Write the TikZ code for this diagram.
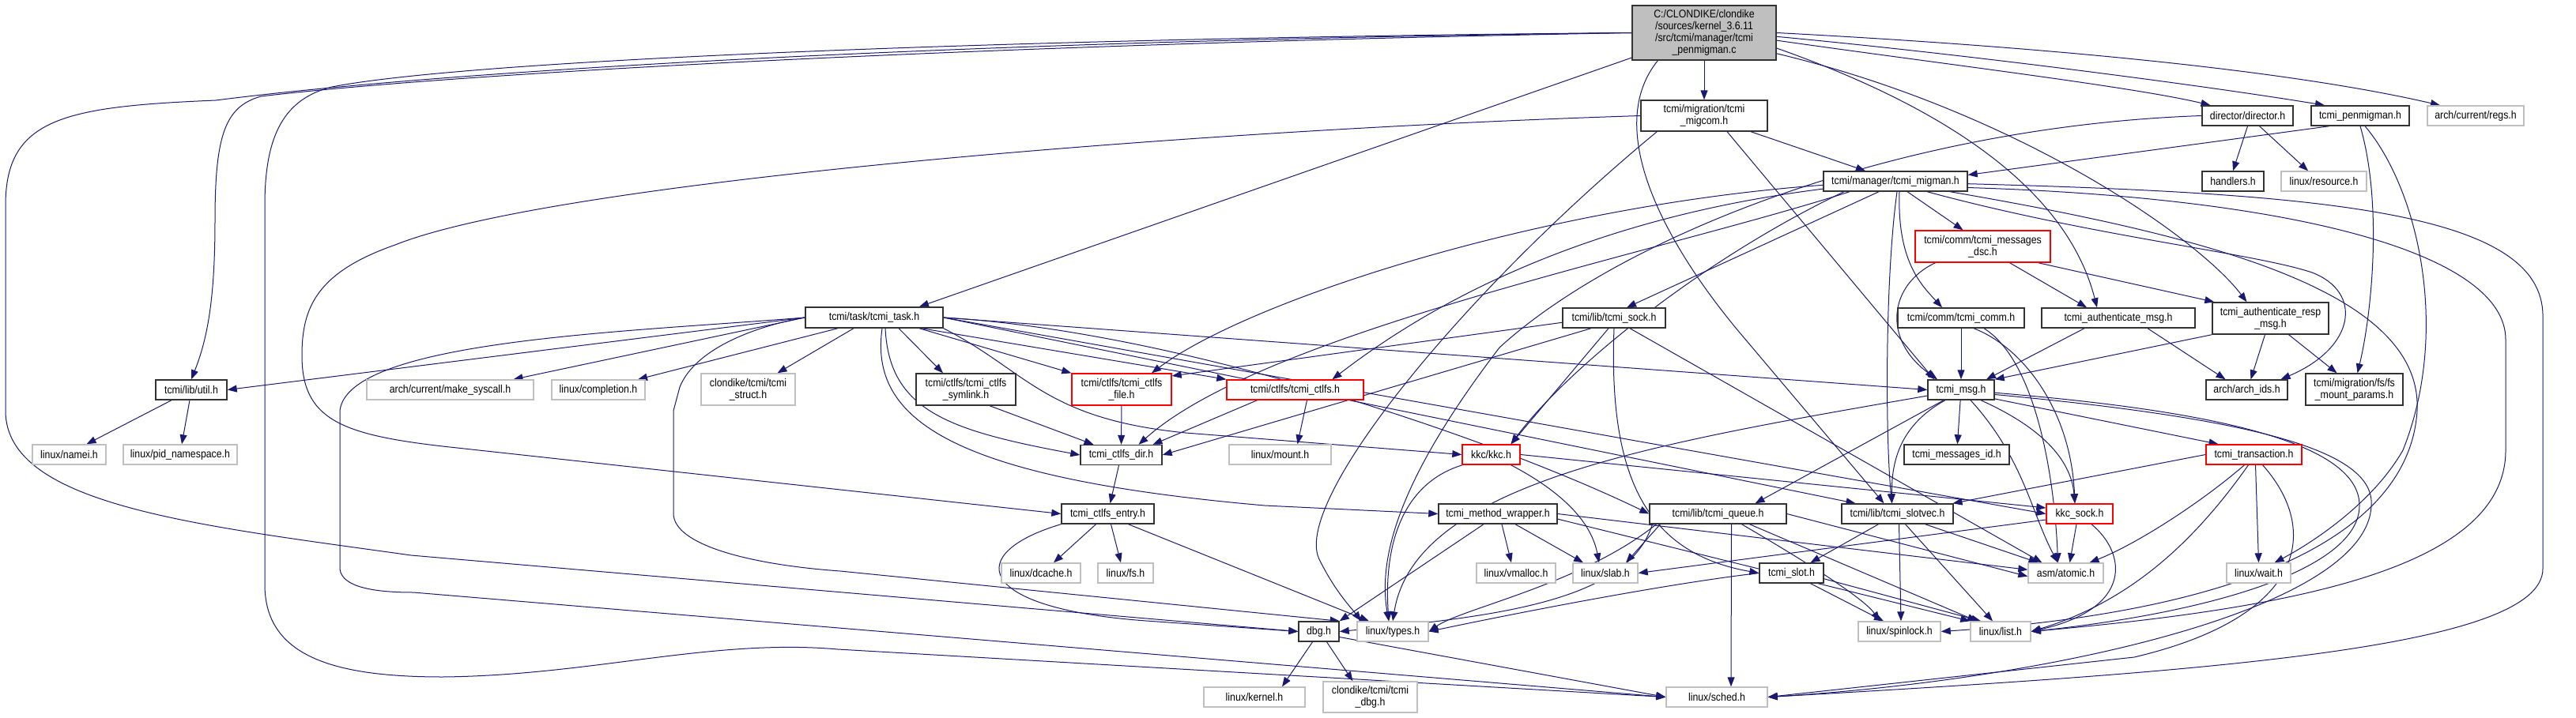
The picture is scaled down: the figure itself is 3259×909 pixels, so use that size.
\documentclass[tikz,border=0pt]{standalone}
\usepackage{fontspec}
\setmainfont{Liberation Sans}[FakeStretch=0.88]
\usepackage{tikz}
\usetikzlibrary{arrows.meta, backgrounds}
\definecolor{edgeblue}{HTML}{191970}
\definecolor{boxline}{HTML}{333333}
\definecolor{extline}{HTML}{BFBFBF}
\definecolor{cutline}{HTML}{FF0000}
\definecolor{rootfill}{HTML}{BFBFBF}

\begin{document}
\begin{tikzpicture}[x=1pt, y=-1pt, font=\fontsize{14}{15}\selectfont,
  hdr/.style={draw=boxline, line width=1.4pt, fill=white, inner sep=0pt, align=center},
  syshdr/.style={hdr, draw=extline},
  cuthdr/.style={hdr, draw=cutline},
  root/.style={hdr, fill=rootfill},
  dep/.style={draw=edgeblue, line width=1pt, -{Triangle[length=12pt, width=9pt]}}]
\useasboundingbox (0,0) rectangle (3259,909);

\node[root, minimum width=182pt, minimum height=69pt] (main) at (2156,41.5) {C:/CLONDIKE/clondike\\/sources/kernel\_3.6.11\\/src/tcmi/manager/tcmi\\\_penmigman.c};
\node[hdr, minimum width=160pt, minimum height=39pt] (migcom) at (2156,146.5) {tcmi/migration/tcmi\\\_migcom.h};
\node[hdr, minimum width=182pt, minimum height=25pt] (migman) at (2398,229.5) {tcmi/manager/tcmi\_migman.h};
\node[cuthdr, minimum width=171pt, minimum height=40pt] (dsc) at (2508.5,312) {tcmi/comm/tcmi\_messages\\\_dsc.h};
\node[hdr, minimum width=160pt, minimum height=25pt] (comm) at (2481,402.5) {tcmi/comm/tcmi\_comm.h};
\node[hdr, minimum width=194pt, minimum height=25pt] (authmsg) at (2680,402.5) {tcmi\_authenticate\_msg.h};
\node[hdr, minimum width=147pt, minimum height=40pt] (authresp) at (2872.5,403) {tcmi\_authenticate\_resp\\\_msg.h};
\node[hdr, minimum width=115pt, minimum height=25pt] (director) at (2843.5,146.5) {director/director.h};
\node[hdr, minimum width=124pt, minimum height=25pt] (penmigh) at (2986,146.5) {tcmi\_penmigman.h};
\node[syshdr, minimum width=122pt, minimum height=25pt] (regs) at (3132,146.5) {arch/current/regs.h};
\node[hdr, minimum width=78pt, minimum height=25pt] (handlers) at (2825,229.5) {handlers.h};
\node[syshdr, minimum width=108pt, minimum height=25pt] (resource) at (2940,229.5) {linux/resource.h};
\node[hdr, minimum width=103pt, minimum height=25pt] (archids) at (2842.5,493.5) {arch/arch\_ids.h};
\node[hdr, minimum width=123pt, minimum height=40pt] (fsmount) at (2978.5,493) {tcmi/migration/fs/fs\\\_mount\_params.h};
\node[cuthdr, minimum width=121pt, minimum height=25pt] (transaction) at (2851.5,575.5) {tcmi\_transaction.h};
\node[syshdr, minimum width=81pt, minimum height=25pt] (wait) at (2857.5,725.5) {linux/wait.h};
\node[hdr, minimum width=84pt, minimum height=25pt] (msg) at (2481,493.5) {tcmi\_msg.h};
\node[hdr, minimum width=133pt, minimum height=25pt] (msgid) at (2475.5,575.5) {tcmi\_messages\_id.h};
\node[hdr, minimum width=173pt, minimum height=25pt] (queue) at (2173.5,650.5) {tcmi/lib/tcmi\_queue.h};
\node[hdr, minimum width=141pt, minimum height=25pt] (slotvec) at (2400.5,650.5) {tcmi/lib/tcmi\_slotvec.h};
\node[cuthdr, minimum width=84pt, minimum height=25pt] (kkcsock) at (2631,650.5) {kkc\_sock.h};
\node[hdr, minimum width=81pt, minimum height=25pt] (slot) at (2266.5,725.5) {tcmi\_slot.h};
\node[syshdr, minimum width=95pt, minimum height=25pt] (atomic) at (2613.5,725.5) {asm/atomic.h};
\node[syshdr, minimum width=104pt, minimum height=25pt] (spinlock) at (2403,799.5) {linux/spinlock.h};
\node[syshdr, minimum width=76pt, minimum height=25pt] (list) at (2531,799.5) {linux/list.h};
\node[syshdr, minimum width=128pt, minimum height=25pt] (sched) at (2172,882.5) {linux/sched.h};
\node[cuthdr, minimum width=173pt, minimum height=25pt] (ctlfs) at (1638.5,493.5) {tcmi/ctlfs/tcmi\_ctlfs.h};
\node[syshdr, minimum width=129pt, minimum height=25pt] (mount) at (1619.5,575.5) {linux/mount.h};
\node[cuthdr, minimum width=73pt, minimum height=25pt] (kkc) at (1886.5,575.5) {kkc/kkc.h};
\node[hdr, minimum width=150pt, minimum height=25pt] (wrapper) at (1895,650.5) {tcmi\_method\_wrapper.h};
\node[syshdr, minimum width=100pt, minimum height=25pt] (vmalloc) at (1918,725.5) {linux/vmalloc.h};
\node[syshdr, minimum width=82pt, minimum height=25pt] (slab) at (2031,725.5) {linux/slab.h};
\node[hdr, minimum width=51pt, minimum height=25pt] (dbg) at (1668.5,799.5) {dbg.h};
\node[syshdr, minimum width=90pt, minimum height=25pt] (types) at (1762,799.5) {linux/types.h};
\node[syshdr, minimum width=119pt, minimum height=39pt] (tcmidbg) at (1733.5,882.5) {clondike/tcmi/tcmi\\\_dbg.h};
\node[syshdr, minimum width=128pt, minimum height=25pt] (kernel) at (1587,882.5) {linux/kernel.h};
\node[hdr, minimum width=126pt, minimum height=40pt] (symlink) at (1222,493) {tcmi/ctlfs/tcmi\_ctlfs\\\_symlink.h};
\node[cuthdr, minimum width=126pt, minimum height=40pt] (file) at (1419,493) {tcmi/ctlfs/tcmi\_ctlfs\\\_file.h};
\node[hdr, minimum width=103pt, minimum height=25pt] (dir) at (1418.5,576) {tcmi\_ctlfs\_dir.h};
\node[hdr, minimum width=117pt, minimum height=25pt] (entry) at (1401.5,650.5) {tcmi\_ctlfs\_entry.h};
\node[syshdr, minimum width=100pt, minimum height=25pt] (dcache) at (1317,725.5) {linux/dcache.h};
\node[syshdr, minimum width=70pt, minimum height=25pt] (fs) at (1424,725.5) {linux/fs.h};
\node[syshdr, minimum width=211pt, minimum height=25pt] (makesys) at (569.5,493.5) {arch/current/make\_syscall.h};
\node[syshdr, minimum width=118pt, minimum height=25pt] (completion) at (757,493.5) {linux/completion.h};
\node[syshdr, minimum width=119pt, minimum height=40pt] (tstruct) at (946.5,493) {clondike/tcmi/tcmi\\\_struct.h};
\node[hdr, minimum width=90pt, minimum height=25pt] (util) at (242,493.5) {tcmi/lib/util.h};
\node[syshdr, minimum width=93pt, minimum height=25pt] (namei) at (87.5,575.5) {linux/namei.h};
\node[syshdr, minimum width=144pt, minimum height=25pt] (pidns) at (228,575.5) {linux/pid\_namespace.h};
\node[hdr, minimum width=174pt, minimum height=26pt] (task) at (1106,402) {tcmi/task/tcmi\_task.h};
\node[hdr, minimum width=130pt, minimum height=25pt] (sock) at (2042,402.5) {tcmi/lib/tcmi\_sock.h};

\begin{scope}[on background layer]
% from the .c file
\draw[dep] (main) -- (migcom);
\draw[dep] (main) -- ([xshift=57pt]task.north);
\draw[dep] (main.west) .. controls (1300,55) and (600,90) .. (330,122) .. controls (285,135) and (272,170) .. (272,280) .. controls (272,380) and (262,430) .. (util.north);
\draw[dep] (main.west) .. controls (1300,48) and (600,75) .. (420,110) .. controls (360,125) and (335,170) .. (335,260) -- (335,740) .. controls (335,830) and (420,857) .. (560,857) .. controls (750,855) and (900,808) .. (1060,822) -- (sched.west);
\draw[dep] (main.west) .. controls (1300,50) and (600,85) .. (273,127) .. controls (80,135) and (7,150) .. (7,260) -- (7,520) .. controls (7,640) and (250,665) .. (520,703) -- (dbg.west);
\draw[dep] (main.east) .. controls (2600,60) and (2900,90) .. ([xshift=-45pt]regs.north);
\draw[dep] (main.-3) .. controls (2500,70) and (2800,110) .. ([xshift=-45pt]penmigh.north);
\draw[dep] (main.-6) .. controls (2450,80) and (2700,110) .. ([xshift=-47pt]director.north);
\draw[dep] (main.-12) .. controls (2500,150) and (2620,260) .. ([xshift=-27pt]authmsg.north);
\draw[dep] (main.-16) .. controls (2550,140) and (2780,300) .. ([xshift=-30pt]authresp.north);
\draw[dep] ([xshift=33pt]main.south west) .. controls (2030,160) and (2100,300) .. (2200,420) -- ([xshift=-17pt]slotvec.north);

% migcom, director, penmigman
\draw[dep] (migcom) -- ([xshift=-38pt]migman.north);
\draw[dep] (migcom.west) .. controls (1500,165) and (700,230) .. (500,310) .. controls (400,345) and (382,390) .. (382,450) .. controls (382,530) and (430,550) .. (560,565) -- (entry.west);
\draw[dep] ([xshift=21pt]migcom.south west) .. controls (1850,370) and (1630,640) .. (1670,710) .. controls (1690,750) and (1710,770) .. ([xshift=-40pt]types.north);
\draw[dep] ([xshift=29pt]migcom.south) -- ([xshift=-34pt]msg.north);
\draw[dep] (director.south) -- (handlers.north);
\draw[dep] ([xshift=15pt]director.south) -- ([xshift=-20pt]resource.north);
\draw[dep] (director.west) .. controls (2400,160) and (2050,300) .. (1897,440) .. controls (1790,580) and (1740,690) .. ([xshift=-5pt]types.north);
\draw[dep] ([xshift=-39pt]penmigh.south) -- (migman.5);
\draw[dep] (penmigh.south) .. controls (3015,260) and (3000,400) .. ([xshift=4pt]fsmount.north);
\draw[dep] ([xshift=6pt]penmigh.south) .. controls (3060,240) and (3100,420) .. (3040,570) .. controls (3000,640) and (2920,690) .. ([xshift=20pt]wait.north);

% migman
\draw[dep] (migman.183) .. controls (1950,260) and (1580,380) .. ([xshift=38pt]file.north);
\draw[dep] (migman.186) .. controls (1980,280) and (1790,400) .. ([xshift=47pt]ctlfs.north);
\draw[dep] ([xshift=-58pt]migman.south) .. controls (2100,320) and (1600,420) .. ([xshift=22pt]dir.north);
\draw[dep] ([xshift=-65pt]migman.south) .. controls (2150,330) and (1980,470) .. ([xshift=25pt]kkc.north);
\draw[dep] ([xshift=-21pt]migman.south) -- ([xshift=16pt]sock.north);
\draw[dep] ([xshift=2pt]migman.south) .. controls (2385,350) and (2385,550) .. ([xshift=-7pt]slotvec.north);
\draw[dep] ([xshift=5pt]migman.south) .. controls (2400,330) and (2430,360) .. ([xshift=-24pt]comm.north);
\draw[dep] ([xshift=15pt]migman.south) -- ([xshift=-25pt]dsc.north);
\draw[dep] ([xshift=40pt]migman.south) .. controls (2650,300) and (2850,320) .. (2925,345) .. controls (2990,370) and (2980,440) .. ([xshift=43pt]archids.north);
\draw[dep] ([xshift=69pt]migman.south) .. controls (2800,300) and (3065,370) .. (3058,520) .. controls (3050,650) and (2900,770) .. (spinlock.east);
\draw[dep] (migman.-5) .. controls (2900,250) and (3170,320) .. (3170,430) -- (3170,570) .. controls (3170,720) and (2900,770) .. (list.east);
\draw[dep] (migman.-2) .. controls (2950,245) and (3217,270) .. (3217,400) -- (3217,720) .. controls (3217,820) and (2800,850) .. (sched.east);

% comm headers
\draw[dep] ([xshift=-60pt]dsc.south) .. controls (2390,360) and (2380,430) .. ([xshift=-30pt]msg.north);
\draw[dep] ([xshift=34pt]dsc.south) -- ([xshift=-40pt]authmsg.north);
\draw[dep] ([xshift=70pt]dsc.south) -- ([xshift=3pt]authresp.north west);
\draw[dep] (comm) -- (msg);
\draw[dep] ([xshift=16pt]comm.south) .. controls (2560,440) and (2620,520) .. ([xshift=-6pt]kkcsock.north);
\draw[dep] ([xshift=29pt]comm.south) .. controls (2580,460) and (2600,620) .. ([xshift=-10pt]atomic.north);
\draw[dep] ([xshift=-43pt]authmsg.south) -- ([xshift=32pt]msg.north);
\draw[dep] ([xshift=37pt]authmsg.south) -- ([xshift=-27pt]archids.north);
\draw[dep] (authresp.south west) -- (msg.north east);
\draw[dep] ([xshift=-7pt]authresp.south) -- ([xshift=5pt]archids.north);
\draw[dep] ([xshift=23pt]authresp.south) -- ([xshift=-22pt]fsmount.north);

% tcmi_msg.h
\draw[dep] (msg) -- (msgid);
\draw[dep] ([xshift=-22pt]msg.south) -- ([xshift=47pt]queue.north);
\draw[dep] ([xshift=-20pt]msg.south) .. controls (2400,540) and (2393,590) .. ([xshift=-7pt]slotvec.north);
\draw[dep] ([xshift=25pt]msg.south) .. controls (2580,540) and (2620,580) .. ([xshift=-6pt]kkcsock.north);
\draw[dep] ([xshift=12pt]msg.south) .. controls (2560,580) and (2570,650) .. ([xshift=-10pt]atomic.north);
\draw[dep] (msg.-15) -- ([xshift=-45pt]transaction.north);
\draw[dep] (msg.190) .. controls (2100,560) and (1790,610) .. (types.north);
\draw[dep] (msg.-5) .. controls (2800,520) and (2985,560) .. (2985,640) .. controls (2985,720) and (2800,775) .. (list.east);
\draw[dep] (msg.-8) .. controls (2850,530) and (3005,570) .. (3000,640) .. controls (2995,770) and (2600,860) .. (sched.east);

% transaction
\draw[dep] (transaction.west) -- ([xshift=70pt]slotvec.north);
\draw[dep] ([xshift=-12pt]transaction.south) .. controls (2780,640) and (2700,690) .. ([xshift=30pt]atomic.north);
\draw[dep] ([xshift=2pt]transaction.south) -- (wait.north);
\draw[dep] ([xshift=11pt]transaction.south) .. controls (2935,670) and (2920,780) .. (2700,832) -- (sched.east);
\draw[dep] ([xshift=-7pt]transaction.south) .. controls (2780,680) and (2700,760) .. (list.east);

% lib headers
\draw[dep] ([xshift=-73pt]queue.south) -- ([xshift=26pt]slab.north);
\draw[dep] ([xshift=17pt]queue.south) -- ([xshift=18pt]sched.north);
\draw[dep] ([xshift=-83pt]queue.south) .. controls (2060,760) and (1900,780) .. (dbg.east);
\draw[dep] ([xshift=-78pt]queue.south) .. controls (2000,740) and (1850,770) .. (types.east);
\draw[dep] ([xshift=30pt]queue.south) .. controls (2300,720) and (2360,760) .. ([xshift=-25pt]spinlock.north);
\draw[dep] ([xshift=40pt]queue.south) -- ([xshift=-30pt]list.north);
\draw[dep] (queue.east) -- (atomic.185);
\draw[dep] ([xshift=24pt]slot.south) -- ([xshift=-20pt]spinlock.north);
\draw[dep] (slot.-10) -- ([xshift=-25pt]list.north);
\draw[dep] (slot.west) .. controls (2100,740) and (1900,780) .. (types.east);
\draw[dep] ([xshift=-24pt]slotvec.south) -- ([xshift=24pt]slot.north);
\draw[dep] ([xshift=2pt]slotvec.south) -- ([xshift=2pt]spinlock.north);
\draw[dep] ([xshift=10pt]slotvec.south) -- ([xshift=-10pt]list.north);
\draw[dep] ([xshift=35pt]slotvec.south) -- ([xshift=-35pt]atomic.north);
\draw[dep] ([xshift=-4pt]kkcsock.south) -- ([xshift=5pt]atomic.north);
\draw[dep] (kkcsock.190) -- (slab.east);
\draw[dep] ([xshift=15pt]kkcsock.south) .. controls (2690,700) and (2700,770) .. (list.east);
\draw[dep] (kkc.east) -- (kkcsock.170);
\draw[dep] (kkc.200) .. controls (1780,610) and (1750,680) .. ([xshift=-5pt]types.north);
\draw[dep] ([xshift=25pt]kkc.south) .. controls (1990,630) and (2015,670) .. ([xshift=-8pt]slab.north);
\draw[dep] ([xshift=5pt]wrapper.south) -- ([xshift=-6pt]vmalloc.north);
\draw[dep] ([xshift=22pt]wrapper.south) -- ([xshift=-28pt]slab.north);
\draw[dep] ([xshift=-18pt]wrapper.south) -- (dbg.north east);
\draw[dep] (wrapper.east) -- (atomic.175);
\draw[dep] (wrapper.-5) -- (list.north west);

% sock and ctlfs
\draw[dep] (sock.185) -- (file.15);
\draw[dep] ([xshift=-29pt]sock.south) -- (dir.east);
\draw[dep] ([xshift=-7pt]sock.south) -- ([xshift=25pt]kkc.north);
\draw[dep] (sock.south) .. controls (2035,600) and (2080,700) .. (slot.west);
\draw[dep] ([xshift=20pt]sock.south) -- ([xshift=-30pt]atomic.north);
\draw[dep] (file) -- (dir);
\draw[dep] ([xshift=30pt]symlink.south) -- ([xshift=-35pt]dir.north);
\draw[dep] ([xshift=-48pt]ctlfs.south) -- ([xshift=40pt]dir.north);
\draw[dep] ([xshift=15pt]ctlfs.south) -- ([xshift=22pt]mount.north);
\draw[dep] (dir) -- (entry);
\draw[dep] ([xshift=-15pt]entry.south) -- ([xshift=16pt]dcache.north);
\draw[dep] ([xshift=4pt]entry.south) -- ([xshift=-6pt]fs.north);
\draw[dep] (entry.south west) .. controls (1220,700) and (1230,770) .. (1450,786) -- (dbg.west);
\draw[dep] ([xshift=26pt]entry.south) -- ([xshift=-30pt]types.north);

% task
\draw[dep] (task.west) -- (util.east);
\draw[dep] (task.west) -- ([xshift=80pt]makesys.north);
\draw[dep] ([xshift=-46pt]task.south) -- ([xshift=50pt]completion.north);
\draw[dep] ([xshift=-26pt]task.south) -- ([xshift=37pt]tstruct.north);
\draw[dep] ([xshift=31pt]task.south) -- ([xshift=-29pt]symlink.north);
\draw[dep] ([xshift=57pt]task.south) -- (file.north west);
\draw[dep] ([xshift=60pt]task.south) -- (ctlfs.north west);
\draw[dep] (task.south east) .. controls (1300,470) and (1320,530) .. (1500,548) -- (kkc.west);
\draw[dep] ([xshift=14pt]task.south) .. controls (1125,520) and (1200,545) .. (dir.west);
\draw[dep] ([xshift=10pt]task.south) .. controls (1100,530) and (1200,605) .. (1600,640) -- (wrapper.west);
\draw[dep] (task.east) -- (msg.west);
\draw[dep] (task.east) .. controls (1500,420) and (1900,560) .. (queue.west);
\draw[dep] (task.east) -- ([xshift=-53pt]slotvec.north);
\draw[dep] (task.east) -- (kkcsock.west);
\draw[dep] (task.west) .. controls (800,420) and (440,430) .. (430,520) -- (430,720) .. controls (432,745) and (480,750) .. (523,750) -- (sched.west);
\draw[dep] (task.west) .. controls (960,412) and (880,440) .. (860,490) -- (852,520) -- (852,650) .. controls (852,690) and (950,715) .. (1063,723) -- (dbg.north east);

% leaves
\draw[dep] ([xshift=-8pt]dbg.south) -- ([xshift=35pt]kernel.north);
\draw[dep] ([xshift=10pt]dbg.south) -- ([xshift=-22pt]tcmidbg.north);
\draw[dep] (dbg.-15) -- (sched.west);
\draw[dep] ([xshift=-25pt]util.south) -- ([xshift=22pt]namei.north);
\draw[dep] ([xshift=-2pt]util.south) -- ([xshift=2pt]pidns.north);
\end{scope}
\end{tikzpicture}
\end{document}
